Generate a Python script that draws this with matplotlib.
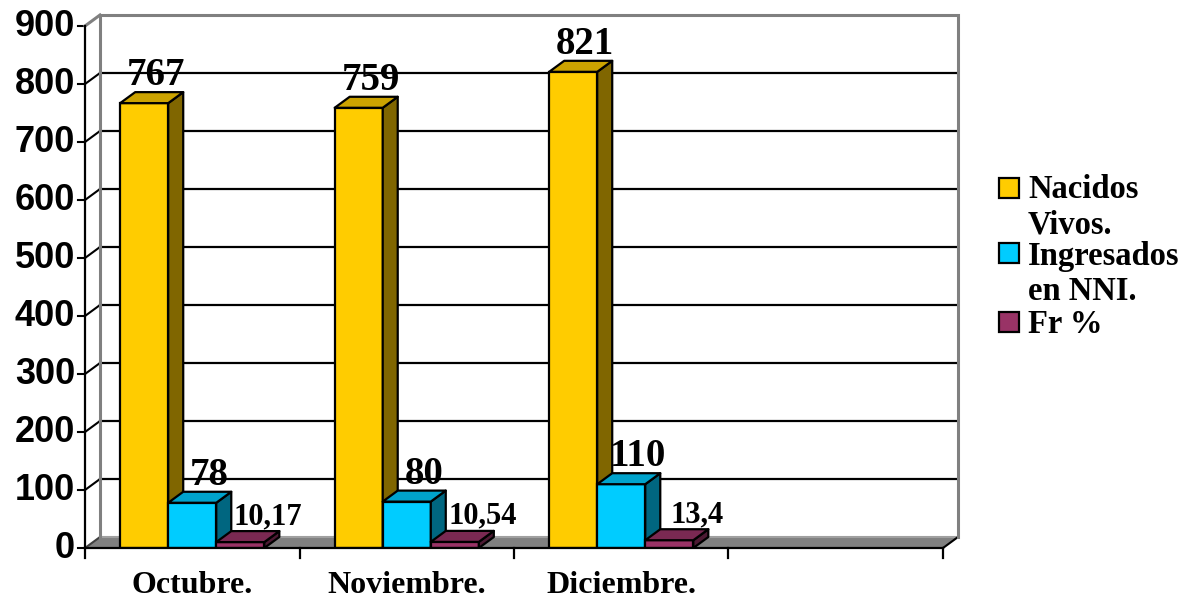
import matplotlib
matplotlib.use("Agg")
import matplotlib.pyplot as plt
from matplotlib.patches import Polygon, Rectangle
import numpy as np

# ---- data ----
categories = ["Octubre.", "Noviembre.", "Diciembre.", ""]
nacidos = [767, 759, 821]
ingresados = [78, 80, 110]
fr = [10.17, 10.54, 13.4]
nacidos_lbl = ["767", "759", "821"]
ingresados_lbl = ["78", "80", "110"]
fr_lbl = ["10,17", "10,54", "13,4"]
series_names = ["Nacidos\nVivos.", "Ingresados\nen NNI.", "Fr %"]
yticks = [0, 100, 200, 300, 400, 500, 600, 700, 800, 900]

# ---- style ----
W, H = 1197, 600
fig = plt.figure(figsize=(W / 100, H / 100), dpi=100)
x0, x1, y0, y1 = 85, 943, 548, 26
ax = fig.add_axes([x0 / W, 1 - y0 / H, (x1 - x0) / W, (y0 - y1) / H])
ax.set_xlim(0, 4)
ax.set_ylim(0, 900)
ax.axis("off")

pxx = (x1 - x0) / 4.0
pxy = (y0 - y1) / 900.0
dx = 15 / pxx
dy = 11 / pxy

gray = "#808080"
serif = "Liberation Serif"
sans = "Liberation Sans"

# floor
ax.add_patch(Polygon([(0, 0), (4, 0), (4 + dx, dy), (dx, dy)], closed=True,
                     facecolor=gray, edgecolor="none", zorder=1, clip_on=False))
ax.plot([4, 4 + dx], [0, dy], color="black", lw=1.5, zorder=2, clip_on=False)
ax.plot([0, dx], [0, dy], color="#404040", lw=1.5, zorder=2, clip_on=False)

# back wall gridlines and left wall lines
for v in yticks[1:-1]:
    ax.plot([dx, 4 + dx], [v + dy, v + dy], color="black", lw=1.6, zorder=2, clip_on=False)
    ax.plot([0, dx], [v, v + dy], color="black", lw=1.5, zorder=2, clip_on=False)
    ax.plot([-7 / pxx, 0], [v, v], color="black", lw=1.5, zorder=2, clip_on=False)
ax.plot([-7 / pxx, 0], [0, 0], color="black", lw=1.5, zorder=2, clip_on=False)
ax.plot([-7 / pxx, 0], [900, 900], color="black", lw=1.5, zorder=2, clip_on=False)
# back wall border
ax.plot([dx, dx, 4 + dx, 4 + dx], [dy, 900 + dy, 900 + dy, dy], color=gray, lw=2.2,
        zorder=2, clip_on=False, solid_joinstyle="miter")
ax.plot([dx, 4 + dx], [dy, dy], color="#a0a0a0", lw=1.5, zorder=1.5, clip_on=False)
ax.plot([0, dx], [900, 900 + dy], color=gray, lw=2.2, zorder=2, clip_on=False)
# front axes
ax.plot([0, 0], [0, 900], color="black", lw=1.6, zorder=6, clip_on=False)
ax.plot([0, 4], [0, 0], color="black", lw=1.6, zorder=6, clip_on=False)
for i in range(5):
    ax.plot([i, i], [0, -10 / pxy], color="black", lw=1.6, zorder=6, clip_on=False)

# y tick labels
for v in yticks:
    ax.text(-10 / pxx, v, str(v), ha="right", va="center", fontsize=26,
            fontweight="bold", family=sans, clip_on=False)
# x category labels
for i, c in enumerate(categories):
    ax.text(i + 0.5, -45 / pxy, c, ha="center", va="baseline", fontsize=23,
            fontweight="bold", family=serif, clip_on=False)

width = 0.224
offsets = [-width, 0, width]
colors = [("#FFCC00", "#CCA300", "#806600"),
          ("#00CCFF", "#00A3CC", "#006680"),
          ("#993366", "#7A2952", "#4D1A33")]
values = [nacidos, ingresados, fr]
labels = [nacidos_lbl, ingresados_lbl, fr_lbl]
lbl_dx = [12, 17, 28]
lbl_fs = [28, 28, 22]

z = 3
for gi in range(3):
    for si in range(3):
        v = values[si][gi]
        c = gi + 0.5 + offsets[si]
        l, r = c - width / 2, c + width / 2
        front, top, side = colors[si]
        ax.bar([c], [v], width=width, color=front, edgecolor="black", linewidth=1.6, zorder=z)
        ax.add_patch(Polygon([(r, 0), (r + dx, dy), (r + dx, v + dy), (r, v)], closed=True,
                             facecolor=side, edgecolor="black", linewidth=1.6, zorder=z,
                             joinstyle="round"))
        ax.add_patch(Polygon([(l, v), (r, v), (r + dx, v + dy), (l + dx, v + dy)], closed=True,
                             facecolor=top, edgecolor="black", linewidth=1.6, zorder=z,
                             joinstyle="round"))
        z += 0.01
        ax.annotate(labels[si][gi], xy=(c, v), xytext=(lbl_dx[si] * 0.72, 18 * 0.72),
                    textcoords="offset points", ha="center", va="baseline",
                    fontsize=lbl_fs[si], fontweight="bold", family=serif, zorder=10)

# legend (manual)
leg_sq = [178, 243, 312]
leg_base = [198, 265, 333]
for si in range(3):
    fig.patches.append(Rectangle((999 / W, 1 - (leg_sq[si] + 20) / H), 20 / W, 20 / H,
                                 transform=fig.transFigure, facecolor=colors[si][0],
                                 edgecolor="black", linewidth=1.6))
    fig.text(1028 / W, 1 - leg_base[si] / H, series_names[si].split("\n")[0],
             ha="left", va="baseline", fontsize=23.5, fontweight="bold", family=serif)
    if "\n" in series_names[si]:
        fig.text(1028 / W, 1 - (leg_base[si] + 35) / H, series_names[si].split("\n")[1],
                 ha="left", va="baseline", fontsize=23.5, fontweight="bold", family=serif)

fig.savefig("out.png", dpi=100)
